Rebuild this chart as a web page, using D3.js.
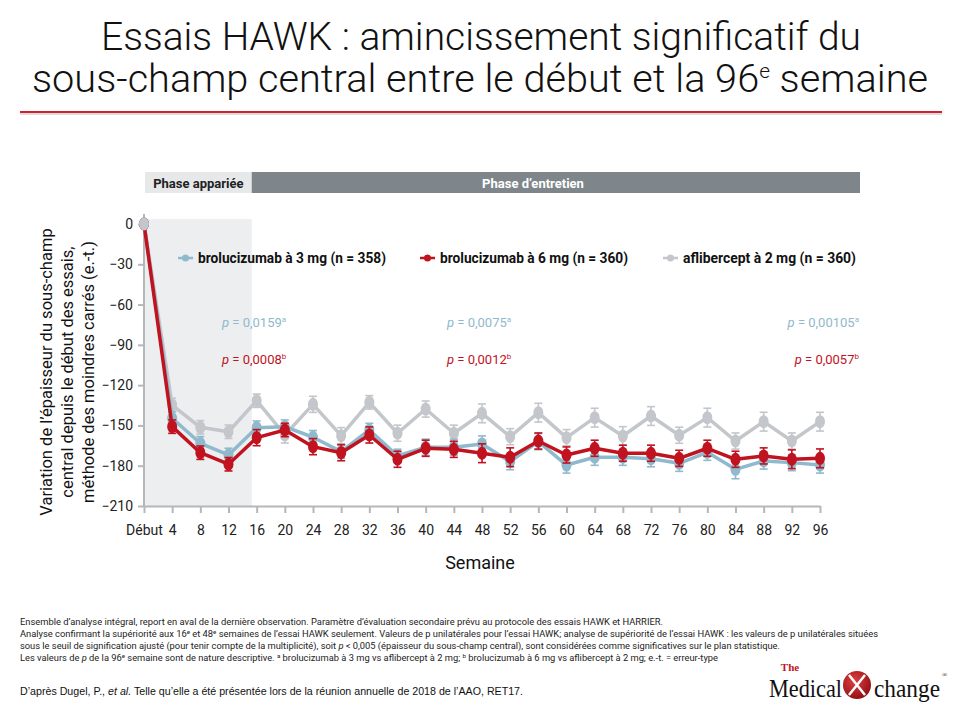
<!DOCTYPE html>
<html>
<head>
<meta charset="utf-8">
<script src="https://cdnjs.cloudflare.com/ajax/libs/d3/7.8.5/d3.min.js"></script>
<style>
  body { margin: 0; background: #fff; }
  svg { display: block; }
  text { font-family: Roboto, "DejaVu Sans Condensed", sans-serif; }
  text.serif { font-family: "Liberation Serif", "DejaVu Serif", serif; }
</style>
</head>
<body>
<svg id="chart" width="960" height="720"></svg>
<script>
// semaines 0 (début) a 96
var weeks = [0, 4, 8, 12, 16, 20, 24, 28, 32, 36, 40, 44, 48, 52, 56, 60, 64, 68, 72, 76, 80, 84, 88, 92, 96];

// variation moyenne (moindres carres) et erreur-type
var bro3 = [0, -144.7, -163.3, -172.0, -151.7, -150.9, -158.8, -169.5, -153.4, -172.7, -166.2, -166.2, -163.8,
            -177.0, -162.1, -179.5, -173.7, -173.7, -174.8, -178.2, -170.0, -182.7, -176.5, -177.7, -179.5];
var bro3Se = [1.5, 5, 5, 5, 5, 5, 5, 5, 5, 5, 6, 6, 6, 6, 6, 6, 6, 6, 6, 6, 6, 7, 6, 6, 6];

var bro6 = [0, -150.9, -170.3, -178.9, -159.1, -153.4, -165.8, -170.3, -157.1, -175.2, -167.0, -167.8, -170.7,
            -173.7, -161.6, -172.0, -167.0, -170.7, -170.7, -174.5, -167.0, -175.2, -172.7, -175.2, -174.5];
var bro6Se = [1.5, 5, 5, 5, 6, 5, 6, 6, 6, 6, 6, 6, 7, 7, 6, 6, 6, 6, 6, 6, 6, 6, 6, 7, 7];

var afli = [0, -134.8, -151.4, -154.7, -131.6, -157.1, -134.3, -157.6, -132.8, -155.8, -137.8, -155.8, -141.0,
            -158.4, -140.5, -159.1, -144.2, -157.9, -143.0, -157.3, -144.2, -161.6, -147.2, -161.6, -147.2];
var afliSe = [1.5, 5, 5, 5, 5, 6, 6, 6, 5, 6, 6, 6, 7, 6, 7, 6, 7, 7, 7, 6, 7, 6, 7, 6, 7];

var yTicks = [0, -30, -60, -90, -120, -150, -180, -210];

var seriesNames = ["brolucizumab à 3 mg (n = 358)", "brolucizumab à 6 mg (n = 360)", "aflibercept à 2 mg (n = 360)"];
var seriesColors = ["#8fb9cd", "#c1121f", "#c3c6ca"];

// valeurs de p aux semaines 16, 48 et 96
var pWeeks = [16, 48, 96];
var p3 = ["0,0159", "0,0075", "0,00105"];
var p6 = ["0,0008", "0,0012", "0,0057"];

var svg = d3.select("#chart");

// titre
var title = svg.append("g").attr("text-anchor", "middle")
  .style("font-weight", 300).style("font-size", "38px").attr("fill", "#111");
title.append("text").attr("x", 481).attr("y", 50)
  .attr("textLength", 760).attr("lengthAdjust", "spacingAndGlyphs")
  .text("Essais HAWK : amincissement significatif du");
var t2 = title.append("text").attr("x", 480).attr("y", 92)
  .attr("textLength", 896).attr("lengthAdjust", "spacingAndGlyphs");
t2.append("tspan").text("sous-champ central entre le début et la 96");
t2.append("tspan").attr("dy", -14).style("font-size", "20px").text("e");
t2.append("tspan").attr("dy", 14).text(" semaine");

svg.append("line").attr("x1", 20).attr("x2", 942).attr("y1", 114).attr("y2", 114)
  .attr("stroke", "#ddd").attr("stroke-width", 2);
svg.append("line").attr("x1", 20).attr("x2", 942).attr("y1", 112).attr("y2", 112)
  .attr("stroke", "#d3202e").attr("stroke-width", 2);

var x = d3.scaleLinear().domain([0, 96]).range([144, 820]);
var y = d3.scaleLinear().domain([-210, 0]).range([506, 224]);

// bandeau des phases
svg.append("rect").attr("x", 145).attr("y", 172).attr("width", x(15.3) - 145).attr("height", 21).attr("fill", "#e6e8ea");
svg.append("rect").attr("x", x(15.3)).attr("y", 172).attr("width", 860 - x(15.3)).attr("height", 21).attr("fill", "#7f868b");
svg.append("text").attr("x", (145 + x(15.3)) / 2).attr("y", 188).attr("text-anchor", "middle")
  .style("font-size", "13px").style("font-weight", "bold").attr("fill", "#222").text("Phase appariée");
svg.append("text").attr("x", 533).attr("y", 188).attr("text-anchor", "middle")
  .style("font-size", "13px").style("font-weight", "bold").attr("fill", "#fff").text("Phase d’entretien");

// zone grisee de la phase appariee
svg.append("rect").attr("x", x(0)).attr("y", 219).attr("width", x(15.3) - x(0)).attr("height", y(-210) - 219)
  .attr("fill", "#eceef0");

// axes
var yAxis = svg.append("g").attr("transform", "translate(" + x(0) + ",0)")
  .call(d3.axisLeft(y).tickValues(yTicks).tickSize(6).tickSizeOuter(0).tickPadding(5));
var xAxis = svg.append("g").attr("transform", "translate(0," + y(-210) + ")")
  .call(d3.axisBottom(x).tickValues(weeks).tickSize(7).tickSizeOuter(0).tickPadding(12)
    .tickFormat(function(d){ return d === 0 ? "Début" : d; }));
svg.selectAll(".domain, .tick line").attr("stroke", "#b4b8bb").attr("stroke-width", 2);
svg.selectAll(".tick text").style("font-size", "14px").attr("fill", "#222")
  .style("font-family", "Roboto, sans-serif");
yAxis.select(".domain").attr("d", "M0,214V" + y(-210));

// titres d'axe
svg.append("text").attr("x", 480).attr("y", 569).attr("text-anchor", "middle")
  .style("font-size", "18px").attr("fill", "#111").text("Semaine");
var yLabelLines = ["Variation de l’épaisseur du sous-champ", "central depuis le début des essais,", "méthode des moindres carrés (e.-t.)"];
var yLabel = svg.append("g").attr("transform", "translate(52,372) rotate(-90)");
yLabelLines.forEach(function(line, i){
  yLabel.append("text").attr("x", 0).attr("y", i * 21).attr("text-anchor", "middle")
    .style("font-size", "16.5px").attr("fill", "#111").text(line);
});

// series
var series = [
  { values: afli, se: afliSe, color: seriesColors[2] },
  { values: bro3, se: bro3Se, color: seriesColors[0] },
  { values: bro6, se: bro6Se, color: seriesColors[1] }
];
var line = d3.line().x(function(d){ return x(d.week); }).y(function(d){ return y(d.value); });

series.forEach(function(s){
  var pts = weeks.map(function(w, i){ return { week: w, value: s.values[i], se: s.se[i] }; });
  var g = svg.append("g");
  g.append("path").datum(pts).attr("d", line).attr("fill", "none")
    .attr("stroke", s.color).attr("stroke-width", 3.5).attr("stroke-linejoin", "round");
  var eb = g.selectAll(".err").data(pts.slice(1)).enter().append("g").attr("stroke", s.color).attr("stroke-width", 1.6);
  eb.append("line").attr("x1", function(d){ return x(d.week); }).attr("x2", function(d){ return x(d.week); })
    .attr("y1", function(d){ return y(d.value + d.se); }).attr("y2", function(d){ return y(d.value - d.se); });
  eb.append("line").attr("x1", function(d){ return x(d.week) - 4; }).attr("x2", function(d){ return x(d.week) + 4; })
    .attr("y1", function(d){ return y(d.value + d.se); }).attr("y2", function(d){ return y(d.value + d.se); });
  eb.append("line").attr("x1", function(d){ return x(d.week) - 4; }).attr("x2", function(d){ return x(d.week) + 4; })
    .attr("y1", function(d){ return y(d.value - d.se); }).attr("y2", function(d){ return y(d.value - d.se); });
  g.selectAll("ellipse").data(pts).enter().append("ellipse")
    .attr("cx", function(d){ return x(d.week); }).attr("cy", function(d){ return y(d.value); })
    .attr("rx", 5).attr("ry", 6.5).attr("fill", s.color);
});
// au debut, le point gris recouvre les autres
svg.append("ellipse").attr("cx", x(weeks[0])).attr("cy", y(afli[0])).attr("rx", 5).attr("ry", 6.5)
  .attr("fill", seriesColors[2]);

// legende
var legendX = [178, 420, 663];
seriesNames.forEach(function(name, i){
  var g = svg.append("g").attr("transform", "translate(" + legendX[i] + ",258)");
  g.append("line").attr("x1", 0).attr("x2", 15).attr("stroke", seriesColors[i]).attr("stroke-width", 2.5);
  g.append("circle").attr("cx", 7.5).attr("r", 3.5).attr("fill", seriesColors[i]);
  g.append("text").attr("x", 20).attr("y", 5).style("font-size", "14px").style("font-weight", "bold")
    .attr("fill", "#111").attr("textLength", i === 2 ? 173 : 188).attr("lengthAdjust", "spacingAndGlyphs").text(name);
});

// valeurs de p
var pX = [222, 447, 859];
pWeeks.forEach(function(wk, i){
  var anchor = wk === 96 ? "end" : "start";
  var t1 = svg.append("text").attr("x", pX[i]).attr("y", 327).attr("text-anchor", anchor)
    .style("font-size", "13px").attr("fill", seriesColors[0]);
  t1.append("tspan").style("font-style", "italic").text("p");
  t1.append("tspan").text(" = " + p3[i]);
  t1.append("tspan").attr("dy", -5).style("font-size", "8px").text("a");
  var t2b = svg.append("text").attr("x", pX[i]).attr("y", 364).attr("text-anchor", anchor)
    .style("font-size", "13px").attr("fill", seriesColors[1]);
  t2b.append("tspan").style("font-style", "italic").text("p");
  t2b.append("tspan").text(" = " + p6[i]);
  t2b.append("tspan").attr("dy", -5).style("font-size", "8px").text("b");
});

// notes
var notes = svg.append("g").style("font-size", "9px").attr("fill", "#222");
var n1 = notes.append("text").attr("x", 20).attr("y", 625).attr("textLength", 643).attr("lengthAdjust", "spacingAndGlyphs");
n1.text("Ensemble d’analyse intégral, report en aval de la dernière observation. Paramètre d’évaluation secondaire prévu au protocole des essais HAWK et HARRIER.");
var n2 = notes.append("text").attr("x", 20).attr("y", 637).attr("textLength", 858).attr("lengthAdjust", "spacingAndGlyphs");
n2.append("tspan").text("Analyse confirmant la supériorité aux 16");
n2.append("tspan").attr("dy", -3).style("font-size", "6px").text("e");
n2.append("tspan").attr("dy", 3).text(" et 48");
n2.append("tspan").attr("dy", -3).style("font-size", "6px").text("e");
n2.append("tspan").attr("dy", 3).text(" semaines de l’essai HAWK seulement. Valeurs de p unilatérales pour l’essai HAWK; analyse de supériorité de l’essai HAWK : les valeurs de p unilatérales situées");
var n3 = notes.append("text").attr("x", 20).attr("y", 649).attr("textLength", 760).attr("lengthAdjust", "spacingAndGlyphs");
n3.append("tspan").text("sous le seuil de signification ajusté (pour tenir compte de la multiplicité), soit ");
n3.append("tspan").style("font-style", "italic").text("p");
n3.append("tspan").text(" < 0,005 (épaisseur du sous-champ central), sont considérées comme significatives sur le plan statistique.");
var n4 = notes.append("text").attr("x", 20).attr("y", 661).attr("textLength", 698).attr("lengthAdjust", "spacingAndGlyphs");
n4.append("tspan").text("Les valeurs de ");
n4.append("tspan").style("font-style", "italic").text("p");
n4.append("tspan").text(" de la 96");
n4.append("tspan").attr("dy", -3).style("font-size", "6px").text("e");
n4.append("tspan").attr("dy", 3).text(" semaine sont de nature descriptive. ");
n4.append("tspan").attr("dy", -3).style("font-size", "6px").text("a");
n4.append("tspan").attr("dy", 3).text(" brolucizumab à 3 mg vs aflibercept à 2 mg; ");
n4.append("tspan").attr("dy", -3).style("font-size", "6px").text("b");
n4.append("tspan").attr("dy", 3).text(" brolucizumab à 6 mg vs aflibercept à 2 mg; e.-t. = erreur-type");

var src = svg.append("text").attr("x", 20).attr("y", 695).style("font-family", "'Liberation Sans', Arial, sans-serif")
  .style("font-size", "11px").attr("fill", "#111").attr("textLength", 503).attr("lengthAdjust", "spacingAndGlyphs");
src.append("tspan").text("D’après Dugel, P., ");
src.append("tspan").style("font-style", "italic").text("et al.");
src.append("tspan").text(" Telle qu’elle a été présentée lors de la réunion annuelle de 2018 de l’AAO, RET17.");

// logo
var logo = svg.append("g");
logo.append("text").attr("class", "serif").attr("x", 790).attr("y", 671).attr("text-anchor", "middle")
  .style("font-size", "11px").style("font-weight", "bold").attr("fill", "#c1121f").text("The");
logo.append("text").attr("class", "serif").attr("x", 769).attr("y", 697).style("font-size", "26px").attr("fill", "#111")
  .attr("textLength", 73).attr("lengthAdjust", "spacingAndGlyphs").text("Medical");
var grad = svg.append("defs").append("radialGradient").attr("id", "xg").attr("cx", "40%").attr("cy", "35%").attr("r", "70%");
grad.append("stop").attr("offset", "0%").attr("stop-color", "#e04040");
grad.append("stop").attr("offset", "100%").attr("stop-color", "#8e0d12");
logo.append("circle").attr("cx", 857).attr("cy", 685).attr("r", 14).attr("fill", "url(#xg)");
logo.append("path").attr("d", "M849,675 L865,695 M865,675 L849,695").attr("stroke", "#fff").attr("stroke-width", 2.5)
  .attr("fill", "none");
logo.append("text").attr("class", "serif").attr("x", 874).attr("y", 697).style("font-size", "26px").attr("fill", "#111")
  .attr("textLength", 66).attr("lengthAdjust", "spacingAndGlyphs").text("change");
logo.append("text").attr("class", "serif").attr("x", 942).attr("y", 677).style("font-size", "7px").attr("fill", "#111").text("®");
</script>
</body>
</html>
